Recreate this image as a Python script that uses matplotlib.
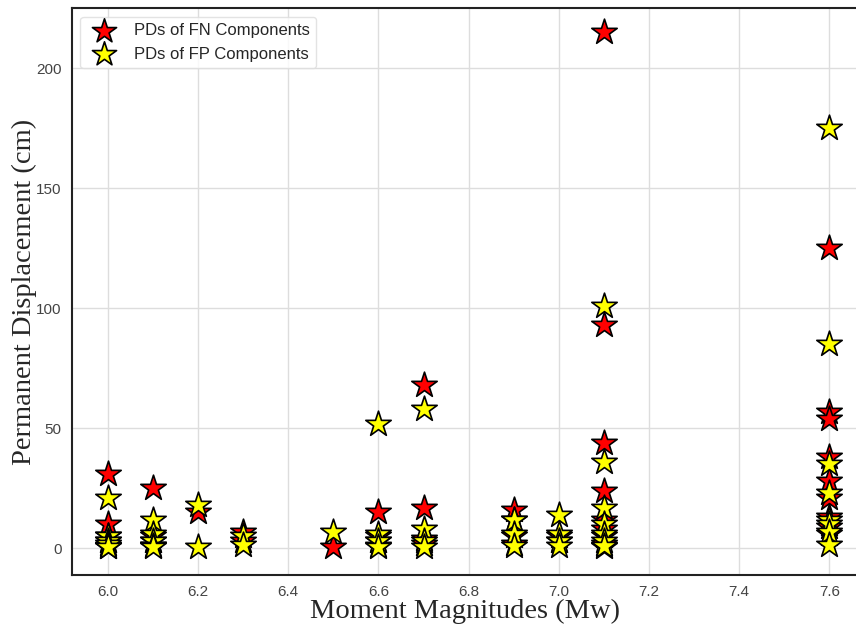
import matplotlib.pyplot as plt
import seaborn as sns

sns.set_style('whitegrid')

# permanent displacements (cm) per event magnitude
fn_mw = [6.0, 6.0, 6.0, 6.0, 6.0, 6.0,
         6.1, 6.1, 6.1, 6.1,
         6.2,
         6.3, 6.3,
         6.5,
         6.6, 6.6, 6.6, 6.6,
         6.7, 6.7, 6.7, 6.7,
         6.9, 6.9, 6.9, 6.9,
         7.0, 7.0,
         7.1, 7.1, 7.1, 7.1, 7.1, 7.1, 7.1, 7.1, 7.1,
         7.6, 7.6, 7.6, 7.6, 7.6, 7.6, 7.6, 7.6, 7.6]
fn_pd = [31, 10, 5, 3, 1, 0.5,
         25, 5, 3, 1,
         15,
         7, 3,
         0.5,
         15, 5, 3, 1,
         68, 17, 4, 2,
         16, 12, 5, 2,
         5, 3,
         215, 93, 44, 24, 12, 8, 5, 2, 0.5,
         125, 57, 54, 38, 28, 21, 13, 9, 6]

fp_mw = [6.0, 6.0, 6.0, 6.0, 6.0,
         6.1, 6.1, 6.1, 6.1, 6.1,
         6.2, 6.2,
         6.3, 6.3,
         6.5,
         6.6, 6.6, 6.6, 6.6,
         6.7, 6.7, 6.7, 6.7,
         6.9, 6.9, 6.9,
         7.0, 7.0, 7.0, 7.0,
         7.1, 7.1, 7.1, 7.1, 7.1, 7.1, 7.1,
         7.6, 7.6, 7.6, 7.6, 7.6, 7.6, 7.6, 7.6]
fp_pd = [21, 5, 3, 2, 0.5,
         12, 6, 3, 1, 0.5,
         18, 0.5,
         5, 1.5,
         7,
         52, 6, 3, 0.5,
         58, 8, 3, 0.5,
         12, 6, 1,
         14, 6, 3, 1,
         101, 36, 17, 10, 6, 3, 1,
         175, 85, 35, 23, 12, 10, 7, 1.5]

fig, ax = plt.subplots(figsize=(8.56, 6.29), dpi=100)
fig.subplots_adjust(left=0.084, right=1.003, top=0.987, bottom=0.086)

ax.scatter(fn_mw, fn_pd, marker='*', s=370, c='red', edgecolors='black',
           linewidths=1.2, label='PDs of FN Components', zorder=3)
ax.scatter(fp_mw, fp_pd, marker='*', s=370, c='yellow', edgecolors='black',
           linewidths=1.2, label='PDs of FP Components', zorder=3)

ax.set_xlim(5.92, 7.665)
ax.set_ylim(-11, 225)
ax.set_xticks([6.0, 6.2, 6.4, 6.6, 6.8, 7.0, 7.2, 7.4, 7.6])
ax.set_yticks([0, 50, 100, 150, 200])
ax.tick_params(labelsize=11, pad=4)
for lab in ax.get_xticklabels() + ax.get_yticklabels():
    lab.set_family('Liberation Sans')
    lab.set_color('#444444')

ax.set_xlabel('Moment Magnitudes (Mw)', family='Liberation Serif', fontsize=20.5,
              labelpad=0)
ax.set_ylabel('Permanent Displacement (cm)', family='Liberation Serif', fontsize=20.5,
              labelpad=-1)

for sp in ax.spines.values():
    sp.set_color('#222222')
    sp.set_linewidth(1.5)
ax.grid(color='#dddddd', linewidth=1)

leg = ax.legend(loc='upper left', frameon=True, markerscale=0.95,
                prop={'family': 'Liberation Sans', 'size': 12})
leg.get_frame().set_edgecolor('#dddddd')

plt.savefig('out.png', dpi=100)
